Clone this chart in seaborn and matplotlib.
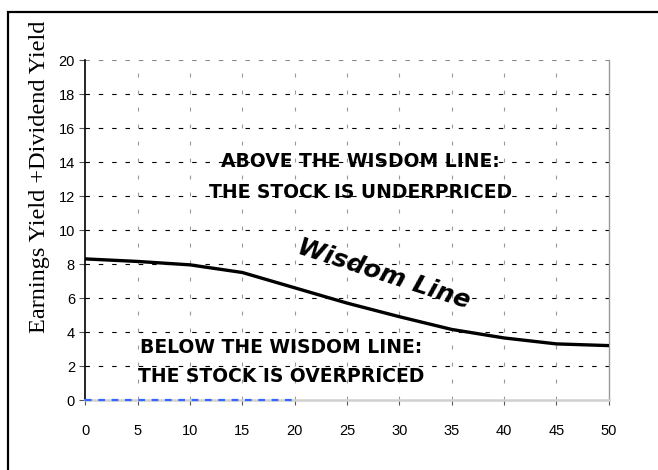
import matplotlib
matplotlib.use('Agg')
import matplotlib.pyplot as plt
import seaborn as sns
import pandas as pd
from matplotlib.patches import Rectangle

# curve
years = [0, 5, 10, 15, 20, 25, 30, 35, 40, 45, 50]
wisdom_yield = [8.3, 8.15, 7.95, 7.5, 6.6, 5.7, 4.9, 4.15, 3.65, 3.3, 3.2]

# blue dashed series sitting on the x axis
blue_x = [0, 5, 10, 15, 20]
blue_y = [0, 0, 0, 0, 0]

x_ticks = [0, 5, 10, 15, 20, 25, 30, 35, 40, 45, 50]
y_ticks = [0, 2, 4, 6, 8, 10, 12, 14, 16, 18, 20]

sns.set_style('white')
plt.rcParams['font.family'] = ['Liberation Sans', 'DejaVu Sans']
plt.rcParams['text.color'] = 'black'
plt.rcParams['xtick.color'] = 'black'
plt.rcParams['ytick.color'] = 'black'
plt.rcParams['axes.labelcolor'] = 'black'

fig = plt.figure(figsize=(6.58, 4.70), dpi=100)
ax = fig.add_axes([85.3 / 658, 70 / 470, 523.5 / 658, 340 / 470])

# outer frame of the picture
fig.patches.append(Rectangle((8 / 658, -0.1), 1.2, (470 - 12) / 470 + 0.1,
                             transform=fig.transFigure, fill=False,
                             edgecolor='black', linewidth=1.6))

df = pd.DataFrame({'x': years, 'y': wisdom_yield})
sns.lineplot(data=df, x='x', y='y', ax=ax, color='black', linewidth=2.4, zorder=4)
sns.lineplot(x=blue_x, y=blue_y, ax=ax, color='#3366ff', linewidth=1.6,
             linestyle=(0, (3, 3)), zorder=5, clip_on=False)

ax.set_xlim(0, 50)
ax.set_ylim(0, 20)
ax.set_xticks(x_ticks)
ax.set_yticks(y_ticks)

# grid: black dashes across, grey dashes down
ax.grid(False)
for yv in y_ticks[1:]:
    ax.axhline(yv, color='black' if yv < 20 else '#888888', linewidth=0.8,
               linestyle=(0, (4, 8)), zorder=1)
for xv in x_ticks[1:-1]:
    ax.axvline(xv, color='#999999', linewidth=0.8, linestyle=(0, (3.5, 11.8)), zorder=1)

ax.spines['top'].set_visible(False)
ax.spines['left'].set_color('black')
ax.spines['left'].set_linewidth(1.2)
ax.spines['right'].set_color('#999999')
ax.spines['right'].set_linewidth(1.0)
ax.spines['bottom'].set_color('#d0d0d0')
ax.spines['bottom'].set_linewidth(1.8)

ax.tick_params(axis='y', direction='out', length=4.5, width=0.8, color='#555555',
               labelsize=10.5, pad=3, left=True)
ax.tick_params(axis='x', direction='out', length=3.5, width=0.8, color='#555555',
               labelsize=10.5, pad=14, bottom=True)

ax.set_xlabel('')
ax.set_ylabel('Earnings Yield +Dividend Yield', family='Liberation Serif', fontsize=17.5)
ax.yaxis.set_label_coords(-0.068, 0.656)

note_font = dict(family='DejaVu Sans', fontweight='bold', fontsize=13.5, color='black',
                 ha='center', va='center', zorder=6)
ax.text(26.3, 13.1, 'ABOVE THE WISDOM LINE:\nTHE STOCK IS UNDERPRICED',
        linespacing=1.8, **note_font)
ax.text(18.7, 2.25, 'BELOW THE WISDOM LINE:\nTHE STOCK IS OVERPRICED',
        linespacing=1.65, **note_font)
ax.text(28.5, 7.4, 'Wisdom Line', family='DejaVu Sans', fontweight='bold', color='black',
        style='italic', fontsize=18, rotation=-18, ha='center', va='center', zorder=6)

plt.savefig('out.png', dpi=100)
plt.close()
